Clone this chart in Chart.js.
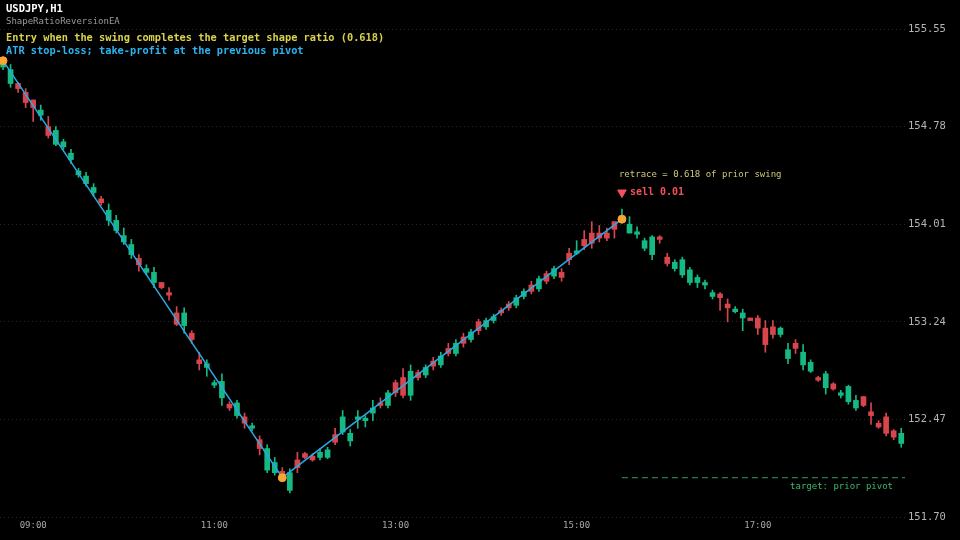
<!DOCTYPE html>
<html lang="en">
<head>
    <meta charset="UTF-8">
    <title>USDJPY H1 - ShapeRatioReversionEA</title>
    <style>
        html, body { margin: 0; padding: 0; background: #000; }
        canvas { display: block; }
    </style>
</head>
<body>
    <canvas id="chart" width="960" height="540"></canvas>

    <script src="https://cdn.jsdelivr.net/npm/chart.js"></script>
    <script>
        // tick labels
        const timeLabels = ['09:00', '11:00', '13:00', '15:00', '17:00'];
        const timeIndex = [4, 28, 52, 76, 100];
        const priceTicks = [151.70, 152.47, 153.24, 154.01, 154.78, 155.55];

        // 5-minute candles
        const open = [
            155.25, 155.12, 155.12, 155.05, 154.99, 154.87, 154.78, 154.64, 154.62, 154.52,
            154.40, 154.33, 154.26, 154.21, 154.04, 153.96, 153.87, 153.77, 153.74, 153.63,
            153.55, 153.55, 153.47, 153.31, 153.21, 153.15, 152.94, 152.88, 152.74, 152.64,
            152.59, 152.50, 152.49, 152.40, 152.31, 152.07, 152.05, 152.06, 151.91, 152.15,
            152.20, 152.18, 152.17, 152.17, 152.35, 152.37, 152.30, 152.47, 152.46, 152.52,
            152.60, 152.58, 152.76, 152.80, 152.66, 152.84, 152.82, 152.93, 152.90, 153.03,
            152.99, 153.12, 153.10, 153.24, 153.20, 153.25, 153.33, 153.38, 153.37, 153.44,
            153.53, 153.50, 153.62, 153.60, 153.63, 153.78, 153.78, 153.89, 153.94, 153.94,
            153.94, 154.03, 154.03, 153.94, 153.93, 153.82, 153.77, 153.91, 153.75, 153.66,
            153.61, 153.55, 153.55, 153.53, 153.44, 153.46, 153.38, 153.32, 153.27, 153.27,
            153.27, 153.19, 153.20, 153.14, 152.95, 153.07, 152.90, 152.85, 152.80, 152.72,
            152.75, 152.66, 152.61, 152.56, 152.65, 152.53, 152.44, 152.49, 152.38, 152.28
        ];
        const high = [
            155.31, 155.27, 155.13, 155.08, 154.99, 154.95, 154.86, 154.78, 154.68, 154.60,
            154.45, 154.42, 154.33, 154.23, 154.17, 154.08, 153.98, 153.89, 153.77, 153.69,
            153.67, 153.55, 153.51, 153.36, 153.35, 153.17, 153.00, 152.94, 152.78, 152.83,
            152.61, 152.62, 152.52, 152.44, 152.34, 152.27, 152.17, 152.09, 152.08, 152.21,
            152.21, 152.20, 152.24, 152.25, 152.40, 152.54, 152.39, 152.54, 152.50, 152.62,
            152.64, 152.70, 152.78, 152.87, 152.90, 152.86, 152.90, 152.96, 153.00, 153.07,
            153.10, 153.15, 153.18, 153.26, 153.27, 153.30, 153.35, 153.40, 153.45, 153.50,
            153.56, 153.60, 153.64, 153.68, 153.66, 153.82, 153.88, 153.96, 154.03, 154.00,
            153.98, 154.03, 154.13, 154.07, 153.99, 153.90, 153.92, 153.92, 153.78, 153.73,
            153.75, 153.67, 153.61, 153.57, 153.49, 153.47, 153.42, 153.36, 153.34, 153.27,
            153.29, 153.25, 153.25, 153.20, 153.07, 153.10, 153.06, 152.94, 152.81, 152.85,
            152.76, 152.70, 152.74, 152.66, 152.65, 152.60, 152.46, 152.52, 152.39, 152.40
        ];
        const low = [
            155.23, 155.09, 155.05, 154.93, 154.82, 154.83, 154.69, 154.63, 154.60, 154.49,
            154.38, 154.31, 154.23, 154.16, 154.00, 153.94, 153.85, 153.74, 153.64, 153.61,
            153.51, 153.50, 153.41, 153.21, 153.15, 153.07, 152.86, 152.81, 152.72, 152.58,
            152.54, 152.48, 152.40, 152.38, 152.19, 152.05, 152.03, 152.01, 151.89, 152.05,
            152.16, 152.14, 152.15, 152.16, 152.27, 152.35, 152.26, 152.40, 152.41, 152.46,
            152.56, 152.56, 152.65, 152.64, 152.62, 152.78, 152.80, 152.86, 152.88, 152.97,
            152.97, 153.04, 153.08, 153.14, 153.18, 153.23, 153.29, 153.33, 153.35, 153.42,
            153.46, 153.48, 153.54, 153.58, 153.56, 153.69, 153.77, 153.81, 153.82, 153.87,
            153.88, 153.90, 154.02, 153.94, 153.90, 153.80, 153.73, 153.86, 153.68, 153.64,
            153.59, 153.53, 153.51, 153.50, 153.42, 153.33, 153.24, 153.31, 153.17, 153.25,
            153.14, 153.00, 153.11, 153.12, 152.91, 152.99, 152.86, 152.84, 152.77, 152.67,
            152.70, 152.64, 152.59, 152.54, 152.57, 152.43, 152.40, 152.34, 152.31, 152.25
        ];
        const close = [
            155.29, 155.23, 155.08, 154.97, 154.93, 154.91, 154.71, 154.75, 154.66, 154.57,
            154.43, 154.39, 154.30, 154.18, 154.12, 154.04, 153.92, 153.85, 153.69, 153.66,
            153.63, 153.51, 153.45, 153.22, 153.31, 153.10, 152.91, 152.91, 152.76, 152.77,
            152.56, 152.60, 152.44, 152.42, 152.24, 152.24, 152.13, 152.03, 152.05, 152.09,
            152.17, 152.15, 152.21, 152.23, 152.29, 152.49, 152.36, 152.49, 152.48, 152.56,
            152.58, 152.68, 152.68, 152.66, 152.85, 152.80, 152.88, 152.89, 152.97, 152.99,
            153.07, 153.07, 153.16, 153.17, 153.25, 153.28, 153.31, 153.35, 153.43, 153.48,
            153.48, 153.58, 153.56, 153.66, 153.59, 153.73, 153.80, 153.84, 153.86, 153.90,
            153.90, 153.97, 154.07, 154.01, 153.95, 153.88, 153.91, 153.89, 153.70, 153.71,
            153.73, 153.65, 153.59, 153.55, 153.47, 153.43, 153.35, 153.34, 153.31, 153.25,
            153.19, 153.06, 153.14, 153.19, 153.02, 153.03, 153.00, 152.92, 152.78, 152.83,
            152.71, 152.68, 152.73, 152.62, 152.58, 152.50, 152.41, 152.36, 152.33, 152.36
        ];

        // swing pivots and trade annotations
        const pivotIndex = [0, 37, 82];
        const pivotPrice = [155.30, 152.01, 154.05];
        const targetPrice = 152.01;
        const signalIndex = 82;
        const signalPrice = 154.26;
        const retracePrice = 154.40;

        const UP = '#16b884';
        const DOWN = '#d9454c';
        const MONO = "'DejaVu Sans Mono', 'Liberation Mono', monospace";

        const idx = open.map((v, i) => i);
        const colors = idx.map(i => close[i] >= open[i] ? UP : DOWN);
        const bodies = idx.map(i => ({ x: i, y: [open[i], close[i]] }));
        const wicks = idx.map(i => ({ x: i, y: [low[i], high[i]] }));
        const pivots = pivotIndex.map((v, i) => ({ x: v, y: pivotPrice[i] }));

        const background = {
            id: 'background',
            beforeDraw(chart) {
                const c = chart.ctx;
                c.save();
                c.fillStyle = '#000';
                c.fillRect(0, 0, chart.width, chart.height);
                c.restore();
            }
        };

        const labels = {
            id: 'labels',
            afterDraw(chart) {
                const c = chart.ctx;
                const xs = chart.scales.x, ys = chart.scales.y;
                c.save();
                c.textBaseline = 'middle';
                c.textAlign = 'left';

                c.font = 'bold 10.5px ' + MONO;
                c.fillStyle = '#ffffff';
                c.fillText('USDJPY,H1', 6, 9);
                c.font = '9px ' + MONO;
                c.fillStyle = '#9a9a9a';
                c.fillText('ShapeRatioReversionEA', 6, 22);
                c.font = 'bold 10.3px ' + MONO;
                c.fillStyle = '#d8d24c';
                c.fillText('Entry when the swing completes the target shape ratio (0.618)', 6, 38);
                c.fillStyle = '#2cb4f0';
                c.fillText('ATR stop-loss; take-profit at the previous pivot', 6, 51);

                const sx = xs.getPixelForValue(signalIndex);
                c.font = '9px ' + MONO;
                c.fillStyle = '#cfc87a';
                c.fillText('retrace = 0.618 of prior swing', sx - 3, ys.getPixelForValue(retracePrice));
                c.font = 'bold 10px ' + MONO;
                c.fillStyle = '#f0545a';
                c.fillText('sell 0.01', sx + 8, ys.getPixelForValue(signalPrice));

                c.font = '9px ' + MONO;
                c.fillStyle = '#3dba6c';
                c.textAlign = 'right';
                c.fillText('target: prior pivot', 893, ys.getPixelForValue(targetPrice) + 9);
                c.restore();
            }
        };

        new Chart(document.getElementById('chart'), {
            type: 'bar',
            data: {
                datasets: [
                    {
                        type: 'line',
                        data: pivots,
                        borderColor: '#2aa9e4',
                        borderWidth: 1.5,
                        pointRadius: 0,
                        tension: 0,
                        order: 1
                    },
                    {
                        type: 'line',
                        data: [{ x: signalIndex, y: targetPrice }, { x: 119.5, y: targetPrice }],
                        borderColor: '#2f9e62',
                        borderWidth: 1,
                        borderDash: [6, 4],
                        pointRadius: 0,
                        order: 1
                    },
                    {
                        type: 'scatter',
                        data: pivots,
                        backgroundColor: '#f7a534',
                        borderColor: '#f7a534',
                        pointRadius: 4,
                        clip: false,
                        order: 0
                    },
                    {
                        type: 'scatter',
                        data: [{ x: signalIndex, y: signalPrice }],
                        pointStyle: 'triangle',
                        rotation: 180,
                        backgroundColor: '#f0545a',
                        borderColor: '#f0545a',
                        pointRadius: 5,
                        clip: false,
                        order: 0
                    },
                    {
                        data: wicks,
                        backgroundColor: colors,
                        barThickness: 1,
                        minBarLength: 1,
                        grouped: false,
                        order: 3
                    },
                    {
                        data: bodies,
                        backgroundColor: colors,
                        barThickness: 5,
                        minBarLength: 2,
                        grouped: false,
                        order: 2
                    }
                ]
            },
            options: {
                responsive: false,
                animation: false,
                layout: { autoPadding: false, padding: { top: 29, left: 0, right: 0, bottom: 0 } },
                plugins: {
                    legend: { display: false },
                    tooltip: { enabled: false }
                },
                scales: {
                    x: {
                        type: 'linear',
                        offset: false,
                        min: -0.4,
                        max: 119.5,
                        afterFit(s) { s.height = 23; },
                        afterBuildTicks(s) { s.ticks = timeIndex.map(v => ({ value: v })); },
                        grid: { display: false, drawTicks: false },
                        border: { display: false },
                        ticks: {
                            autoSkip: false,
                            maxRotation: 0,
                            padding: 3,
                            color: '#a8a8a8',
                            font: { family: MONO, size: 9 },
                            callback: v => timeLabels[timeIndex.indexOf(v)]
                        }
                    },
                    y: {
                        position: 'right',
                        min: 151.70,
                        max: 155.55,
                        afterFit(s) { s.width = 55; },
                        afterBuildTicks(s) { s.ticks = priceTicks.map(v => ({ value: v })); },
                        grid: {
                            color: 'rgba(255,255,255,0.16)',
                            borderDash: [1, 3],
                            drawTicks: false
                        },
                        border: { display: false, dash: [1, 3] },
                        ticks: {
                            padding: 3,
                            color: '#b4b4b4',
                            font: { family: MONO, size: 10.5 },
                            callback: v => v.toFixed(2)
                        }
                    }
                }
            },
            plugins: [background, labels]
        });
    </script>
</body>
</html>
